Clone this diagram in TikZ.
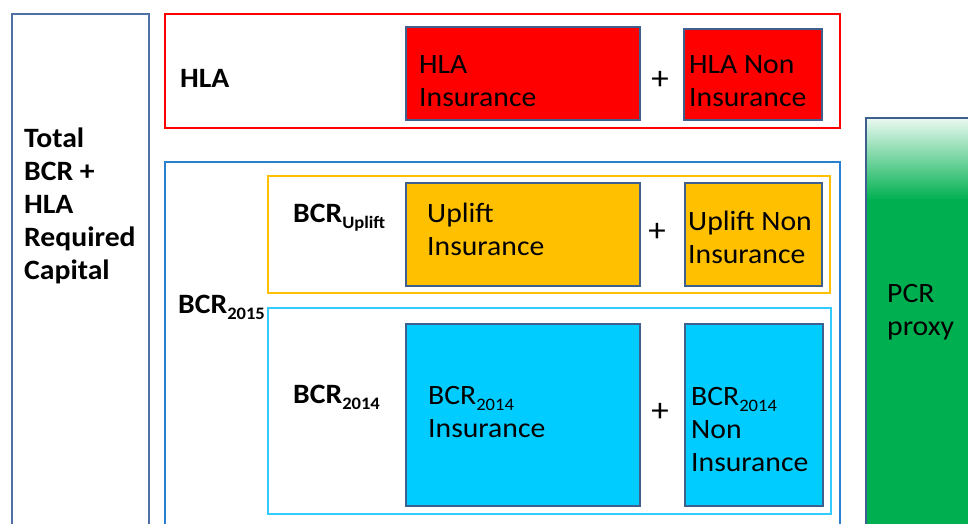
\documentclass[tikz,border=0pt]{standalone}
\usepackage{fontspec}
\setmainfont{Carlito}[FakeStretch=1.06]
\definecolor{totb}{HTML}{5071A8}
\definecolor{hlared}{HTML}{FF0000}
\definecolor{bcrblue}{HTML}{2A80D0}
\definecolor{uporange}{HTML}{FFC000}
\definecolor{bcrcyan}{HTML}{00CCFF}
\definecolor{cyanframe}{HTML}{33CCFF}
\definecolor{boxb}{HTML}{3F5F8F}
\definecolor{pcrgreen}{HTML}{00B050}
\newcommand{\sbs}[1]{\raisebox{-6pt}{\fontsize{17.5}{17.5}\selectfont #1}}
\tikzset{
  frame/.style={draw, line width=2pt},
  fillbox/.style={draw=boxb, line width=1.8pt},
  txt/.style={anchor=base west, align=left, inner sep=0pt, font=\fontsize{28}{33}\selectfont},
  lbl/.style={txt, font=\fontsize{28}{33}\selectfont\bfseries},
  plus/.style={inner sep=0pt, font=\fontsize{33}{33}\selectfont}
}
\begin{document}
\begin{tikzpicture}[x=1pt,y=-1pt]
\useasboundingbox (0,0) rectangle (968,523);
\begin{scope}
\clip (0,0) rectangle (968,523);
% left total box
\draw[frame, draw=totb] (12,14) rectangle (149,545);
% HLA group
\draw[frame, draw=hlared] (165,14) rectangle (840,128);
\draw[fillbox, fill=hlared] (406,27) rectangle (640,120);
\draw[fillbox, fill=hlared] (684,29) rectangle (822,120);
% BCR2015 group
\draw[frame, draw=bcrblue] (165,162) rectangle (840,545);
\draw[frame, draw=uporange] (268,176) rectangle (830,293);
\draw[fillbox, fill=uporange] (406,183) rectangle (640,286);
\draw[fillbox, fill=uporange] (685,183) rectangle (822,286);
\draw[frame, draw=cyanframe] (268,308) rectangle (831,514);
\draw[fillbox, fill=bcrcyan] (406,324) rectangle (640,506);
\draw[fillbox, fill=bcrcyan] (685,324) rectangle (823,506);
% PCR proxy
\shade[top color=pcrgreen!8, bottom color=pcrgreen] (866,118) rectangle (990,200);
\fill[pcrgreen] (866,199) rectangle (990,545);
\draw[fillbox] (866,118) rectangle (990,545);
\end{scope}
% texts (anchor = baseline of last line)
\node[lbl] (total) at (24,279) {Total\\BCR +\\HLA\\Required\\Capital};
\node[lbl] (hla) at (180,87) {HLA};
\node[txt] (hlains) at (419,106) {HLA\\Insurance};
\node[plus] (p1) at (660,80) {+};
\node[txt] (hlanon) at (689,106) {HLA Non\\Insurance};
\node[lbl] (bcrup) at (293,222) {BCR\sbs{Uplift}};
\node[txt] (upins) at (427,255) {Uplift\\Insurance};
\node[plus] (p2) at (657,232) {+};
\node[txt] (upnon) at (688,263) {Uplift Non\\Insurance};
\node[lbl] (bcr15) at (178,313) {BCR\sbs{2015}};
\node[lbl] (bcr14) at (293,403) {BCR\sbs{2014}};
\node[txt] (bcrins) at (428,437) {BCR\sbs{2014}\\Insurance};
\node[plus] (p3) at (660,412) {+};
\node[txt] (bcrnon) at (691,471) {BCR\sbs{2014}\\Non\\Insurance};
\node[txt] (pcr) at (887,335) {PCR\\proxy};
\end{tikzpicture}
\end{document}
